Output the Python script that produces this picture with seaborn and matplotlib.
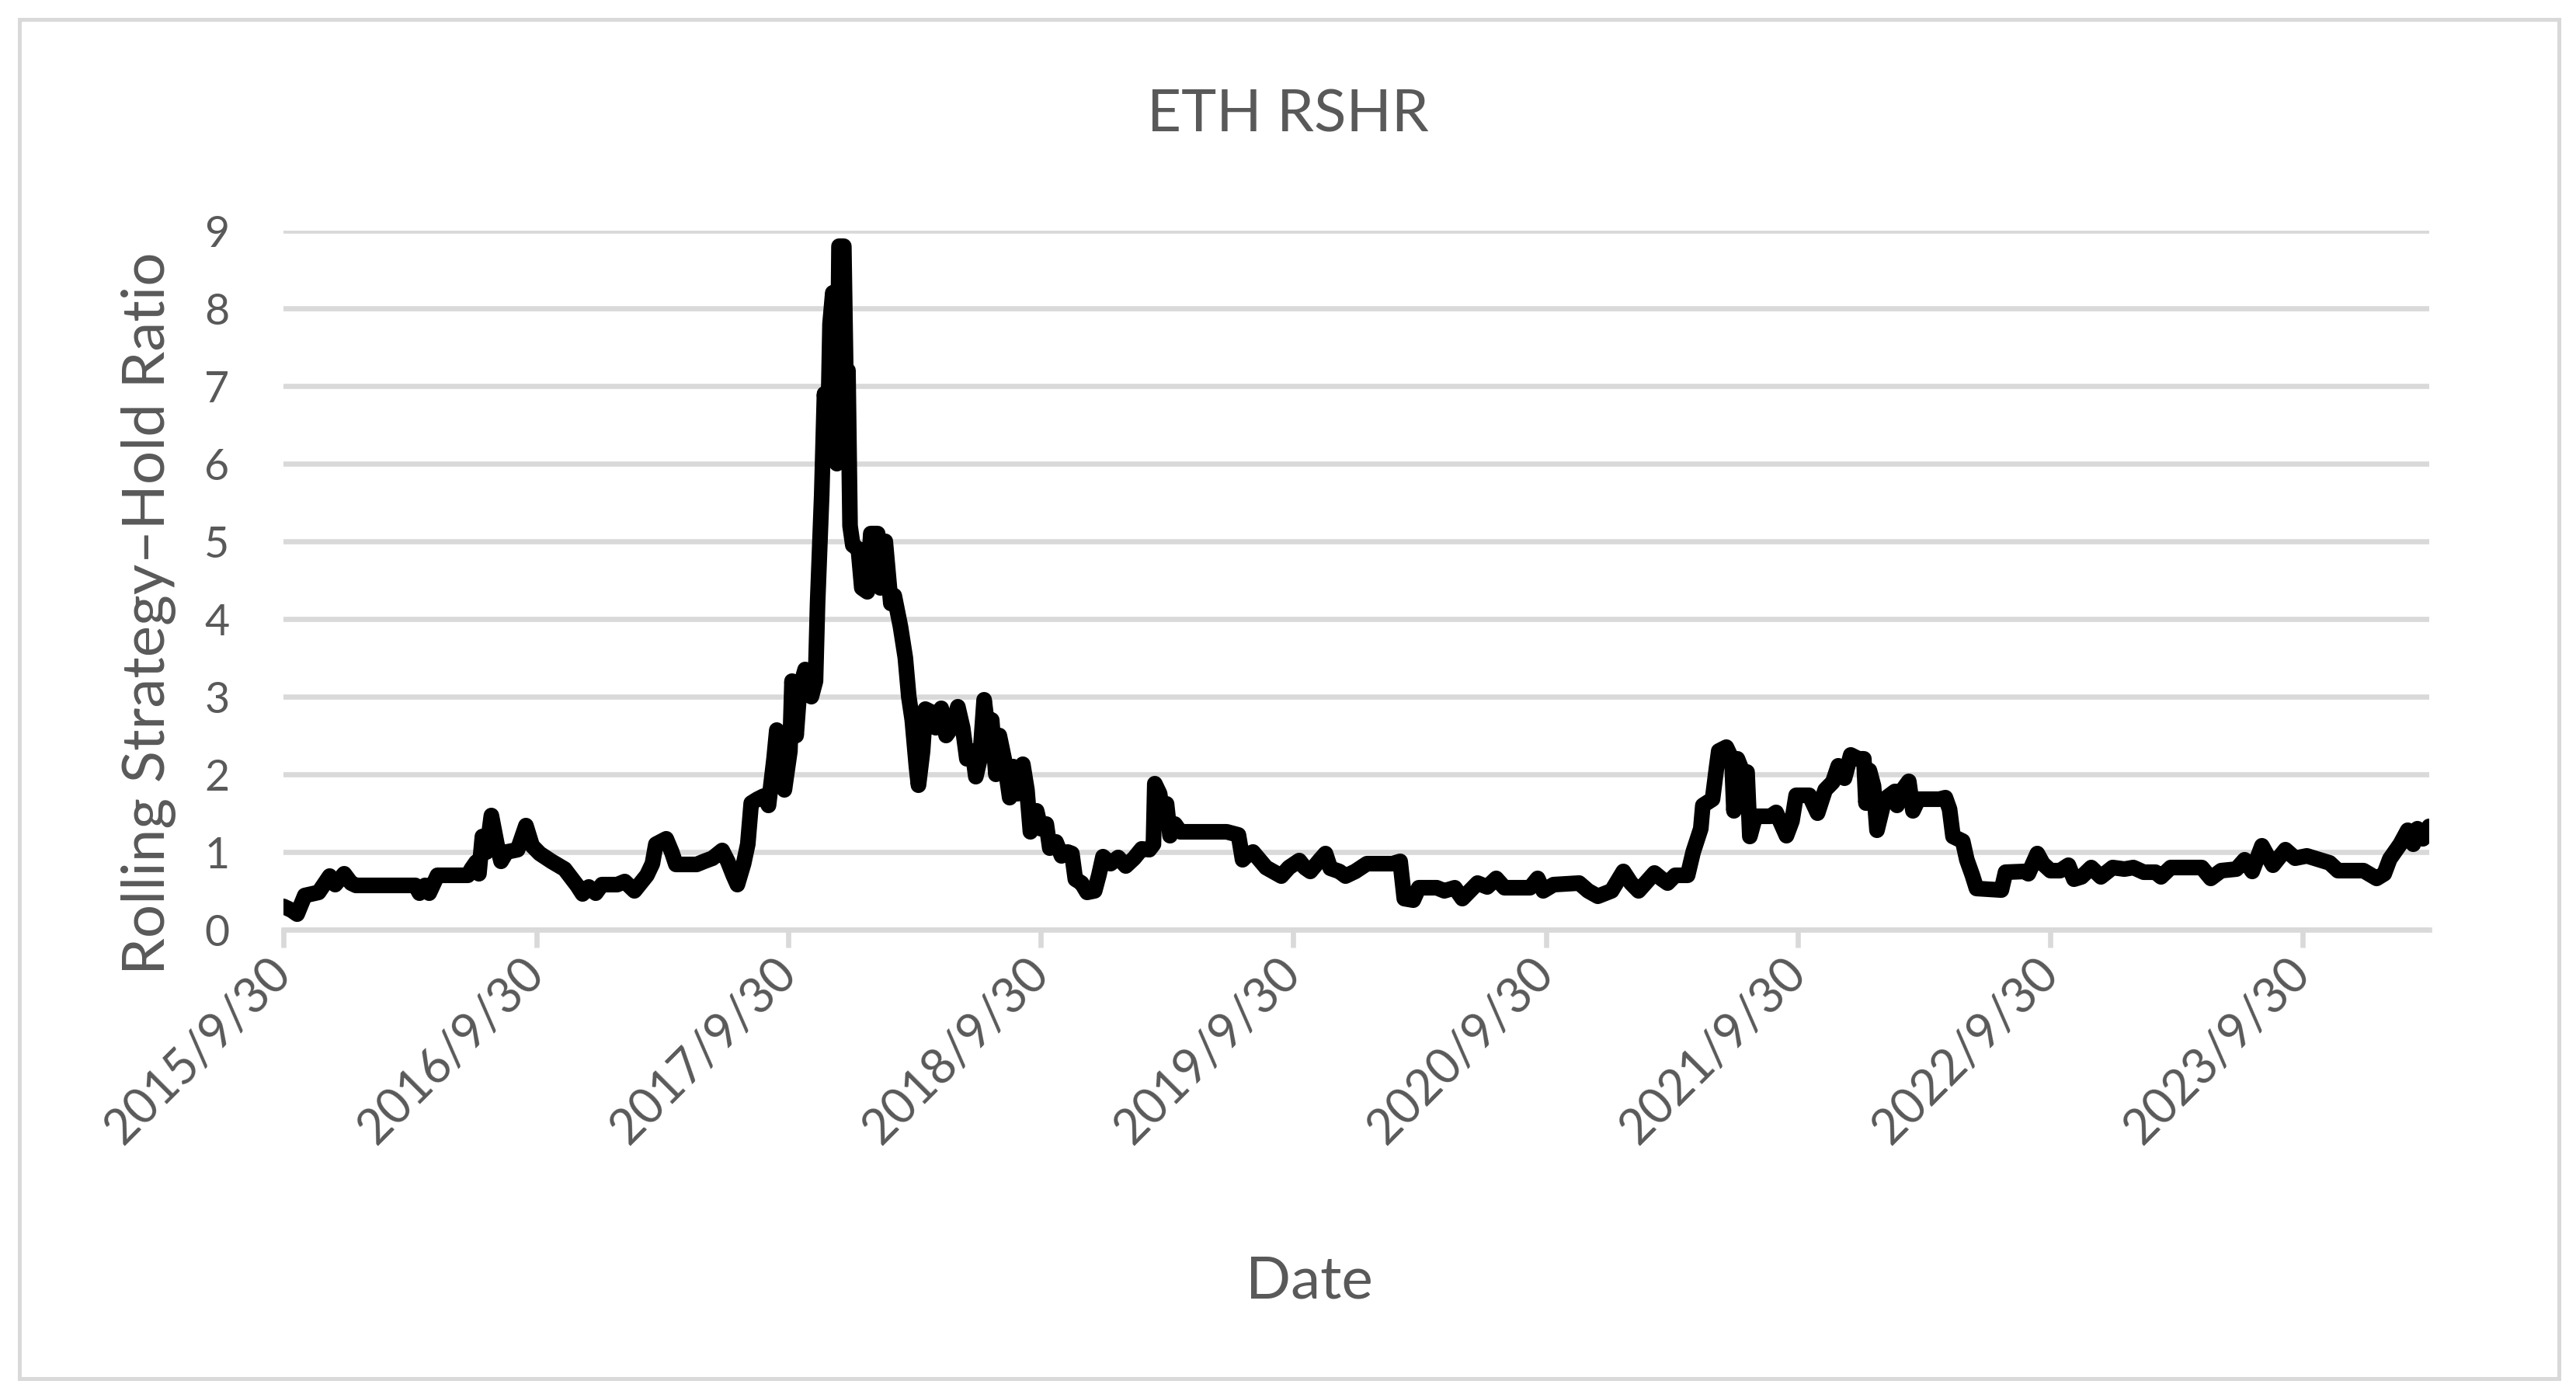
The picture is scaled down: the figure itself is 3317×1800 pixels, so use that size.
import pandas as pd
import matplotlib
matplotlib.use('Agg')
import matplotlib.pyplot as plt
import matplotlib.patches as patches
import seaborn as sns

# Data: days after the first date and the ratio value
start_date = '2015-09-30'
day_offset = [
    0, 12, 20, 31, 51, 67, 75, 88, 98, 105, 191, 197, 205, 211, 223, 267, 272, 279, 283, 288,
    294, 301, 309, 315, 323, 339, 351, 360, 371, 388, 407, 425, 433, 442, 452, 461, 483, 494, 508,
    526, 534, 539, 554, 562, 568, 598, 609, 621, 635, 643, 651, 657, 666, 672, 677, 686, 695, 702,
    710, 714, 722, 725, 733, 736, 742, 747, 755, 764, 770, 773, 779, 783, 788, 791, 795, 798, 801,
    804, 811, 815, 817, 820, 824, 832, 837, 845, 850, 860, 864, 871, 879, 884, 893, 900, 905, 910,
    916, 919, 925, 929, 938, 944, 952, 959, 967, 976, 983, 989, 997, 1002, 1008, 1014, 1019, 1025,
    1031, 1036,
    1043, 1051, 1056, 1062, 1070, 1076, 1081, 1090, 1096, 1104, 1109, 1118, 1126, 1135, 1141, 1146,
    1155, 1163, 1174, 1180, 1186, 1197, 1208, 1219, 1231, 1242, 1253, 1259, 1261, 1268, 1272, 1278,
    1283, 1290, 1298, 1365, 1382, 1388, 1396, 1403, 1422, 1444, 1455, 1470, 1478, 1486, 1500, 1508,
    1515, 1528, 1537, 1551,
    1568, 1605, 1616, 1622, 1635, 1643, 1669, 1680, 1695, 1706, 1717, 1728, 1742, 1755, 1767, 1804,
    1815, 1823, 1838, 1875, 1888, 1902, 1922, 1939, 1950, 1961, 1984, 1995, 2003, 2014, 2032, 2040,
    2051, 2054, 2068,
    2074, 2077, 2088, 2096, 2099, 2104, 2113, 2118, 2122, 2130, 2152, 2160, 2175, 2183, 2189, 2208,
    2220, 2231, 2242, 2250, 2259, 2268, 2279, 2287, 2290, 2295, 2301, 2306, 2317, 2332, 2335, 2343,
    2352, 2358, 2366, 2396, 2405, 2411, 2416, 2430, 2436, 2444, 2450, 2486, 2492, 2520, 2525, 2538,
    2546, 2557, 2571,
    2583, 2591, 2602, 2616, 2630, 2647, 2664, 2677, 2692, 2709, 2717, 2731, 2776, 2789, 2804, 2826,
    2838, 2849, 2863, 2871, 2879, 2897, 2911, 2928, 2939, 2961, 2973, 3010, 3029, 3040, 3048, 3063,
    3074, 3082, 3088, 3096, 3105,
]
rshr = [
    0.30, 0.25, 0.20, 0.44, 0.48, 0.69, 0.58, 0.72, 0.60, 0.57, 0.57, 0.47, 0.57, 0.47, 0.70, 0.70, 0.78, 0.87, 0.72, 1.20,
    1.00, 1.47, 1.10, 0.88, 1.00, 1.03, 1.34, 1.08, 0.98, 0.88, 0.78, 0.57, 0.46, 0.55, 0.47, 0.58, 0.58, 0.62, 0.50,
    0.70, 0.85, 1.10, 1.17, 1.00, 0.84, 0.84, 0.88, 0.92, 1.02, 0.88, 0.70, 0.58, 0.85, 1.10, 1.63, 1.68, 1.72, 1.60,
    2.20, 2.57, 2.30, 1.80, 2.30, 3.20, 2.50, 3.10, 3.35, 3.00, 3.20, 4.20, 5.60, 6.90, 6.40, 7.80, 8.20, 6.20, 6.00,
    8.80, 8.80, 6.50, 7.20, 5.20, 4.95, 4.90, 4.40, 4.35, 5.10, 5.10, 4.40, 5.00, 4.20, 4.30, 3.90, 3.50, 3.00, 2.70,
    2.10, 1.86, 2.30, 2.84, 2.80, 2.60, 2.85, 2.50, 2.60, 2.87, 2.60, 2.20, 2.30, 1.97, 2.20, 2.96, 2.60, 2.70,
    2.00, 2.50,
    2.20, 1.70, 2.10, 1.75, 2.13, 1.80, 1.26, 1.53, 1.30, 1.36, 1.05, 1.13, 0.95, 1.00, 0.98, 0.65,
    0.60, 0.48, 0.50, 0.70, 0.94, 0.85, 0.93, 0.82, 0.92, 1.04, 1.03, 1.10, 1.88, 1.75, 1.50, 1.62,
    1.21, 1.36, 1.26, 1.26, 1.22, 0.90, 0.97, 1.00, 0.80, 0.69, 0.80, 0.89, 0.80, 0.75, 0.90, 0.98,
    0.79, 0.75, 0.69, 0.75,
    0.85, 0.85, 0.88, 0.40, 0.38, 0.54, 0.54, 0.50, 0.54, 0.40, 0.50, 0.60, 0.55, 0.66, 0.54, 0.54,
    0.66, 0.50, 0.58, 0.60, 0.50, 0.43, 0.50, 0.75, 0.60, 0.50, 0.73, 0.65, 0.60, 0.70, 0.70, 1.00,
    1.30, 1.60, 1.68,
    2.10, 2.30, 2.35, 2.20, 1.53, 2.20, 2.00, 2.03, 1.20, 1.46, 1.46, 1.51, 1.21, 1.40, 1.73, 1.73,
    1.50, 1.80, 1.90, 2.11, 1.95, 2.25, 2.20, 2.20, 1.63, 2.05, 1.85, 1.28, 1.68, 1.78, 1.60, 1.80,
    1.91, 1.53, 1.68, 1.68, 1.70, 1.55, 1.20, 1.14, 0.90, 0.70, 0.53, 0.51, 0.74, 0.75, 0.72, 0.98,
    0.85, 0.76, 0.76,
    0.83, 0.65, 0.68, 0.80, 0.68, 0.80, 0.78, 0.80, 0.74, 0.74, 0.68, 0.80, 0.80, 0.66, 0.76, 0.78,
    0.90, 0.75, 1.08, 0.95, 0.83, 1.03, 0.92, 0.95, 0.92, 0.86, 0.76, 0.76, 0.66, 0.72, 0.91, 1.10,
    1.28, 1.10, 1.30, 1.17, 1.33,
]
tick_labels = ['2015/9/30', '2016/9/30', '2017/9/30', '2018/9/30', '2019/9/30',
               '2020/9/30', '2021/9/30', '2022/9/30', '2023/9/30']

df = pd.DataFrame({
    'Date': pd.Timestamp(start_date) + pd.to_timedelta(day_offset, unit='D'),
    'RSHR': rshr,
})

sns.set_theme(style='white')
plt.rcParams['font.family'] = ['Lato', 'DejaVu Sans']

text_col = '#595959'
grid_col = '#D9D9D9'

fig = plt.figure(figsize=(33.17, 18), dpi=100)
ax = fig.add_axes([0.110, 0.335, 0.833, 0.500])

ax.yaxis.grid(True, color=grid_col, linewidth=4.8)
ax.xaxis.grid(False)
ax.set_axisbelow(True)

sns.lineplot(data=df, x='Date', y='RSHR', color='black', linewidth=14.5, ax=ax)
for ln in ax.lines:
    ln.set_solid_joinstyle('round')
    ln.set_solid_capstyle('round')

ax.set_ylim(0, 9)
ax.set_yticks(range(10))
ax.set_xlim(df['Date'].iloc[0], df['Date'].iloc[-1])
ax.set_xticks(pd.to_datetime(tick_labels, format='%Y/%m/%d'))
ax.set_xticklabels(tick_labels, rotation=45, ha='right', va='center', rotation_mode='anchor')

for side in ['top', 'right', 'left']:
    ax.spines[side].set_visible(False)
ax.spines['bottom'].set_color(grid_col)
ax.spines['bottom'].set_linewidth(4.8)

ax.tick_params(axis='x', bottom=True, length=16.5, width=4.8, color=grid_col,
               labelcolor=text_col, labelsize=45, pad=17)
ax.tick_params(axis='y', left=False, length=0, labelcolor=text_col, labelsize=40, pad=50)
ax.set_xlabel('')
ax.set_ylabel('')

fig.text(0.5, 1 - 148 / 1800, 'ETH RSHR', ha='center', va='center', fontsize=55, color=text_col)
fig.text(1686 / 3317, 1 - 1650 / 1800, 'Date', ha='center', va='center', fontsize=55, color=text_col)
fig.text(192 / 3317, 1 - 790 / 1800, 'Rolling Strategy\u2013Hold Ratio', ha='center', va='center',
         rotation=90, fontsize=55, color=text_col)

fig.patches.append(patches.Rectangle((25 / 3317, 25 / 1800), 1 - 47 / 3317, 1 - 50 / 1800,
                                     transform=fig.transFigure, fill=False,
                                     edgecolor=grid_col, linewidth=3.6))

fig.savefig('out.png', dpi=100, facecolor='white')
